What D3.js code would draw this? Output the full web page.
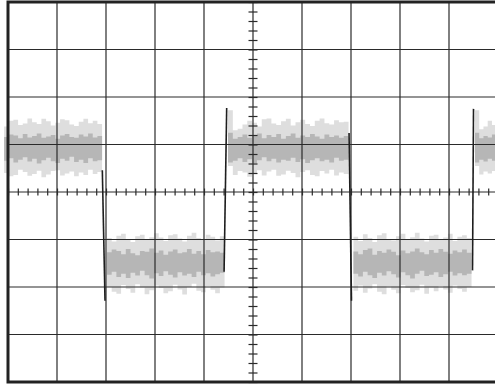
<!DOCTYPE html>
<html><head><meta charset="utf-8">
<script src="https://cdn.jsdelivr.net/npm/d3@7"></script>
<style>html,body{margin:0;padding:0;background:#fff;overflow:hidden}</style>
</head><body><svg id="c" width="495" height="385"></svg>
<script>
// Grid divisions (time: 10 div, amplitude: 8 div)
const xDivs = [-5,-4,-3,-2,-1,0,1,2,3,4,5];
const yDivs = [-4,-3,-2,-1,0,1,2,3,4];
const minorX = d3.range(-25, 26).map(i => i / 5);
const minorY = d3.range(-20, 21).map(i => i / 5);

// Noisy trace segments: [start, end] in divisions
const segTimes = [[-5.08,-3.08],[-2.98,-0.58],[-0.51,1.95],[2.05,4.46],[4.53,5.05]];
const lightTop = [
  [1.38,1.50,1.52,1.41,1.44,1.55,1.47,1.43,1.54,1.49,1.40,1.46,1.53,1.51,1.42,1.39,1.48,1.54,1.45,1.50,1.43],
  [-0.97,-1.04,-0.92,-0.88,-0.99,-1.05,-0.93,-0.90,-1.01,-0.95,-0.87,-0.96,-1.03,-0.91,-0.89,-0.98,-1.04,-0.92,-0.86,-0.97,-1.00,-0.90,-0.94,-1.02,-0.93],
  [1.72,1.30,1.33,1.42,1.50,1.46,1.38,1.53,1.55,1.44,1.41,1.49,1.54,1.40,1.47,1.52,1.43,1.39,1.50,1.55,1.45,1.42,1.51,1.47,1.48],
  [-0.94,-1.03,-0.89,-0.97,-1.05,-0.91,-0.87,-0.99,-1.02,-0.93,-0.88,-1.00,-0.95,-0.86,-0.98,-1.04,-0.92,-0.90,-1.01,-0.96,-0.88,-1.03,-0.94,-0.91,-0.97],
  [1.72,1.32,1.38,1.50,1.41,1.49]
];
const lightBot = [
  [0.40,0.33,0.36,0.47,0.42,0.34,0.38,0.45,0.31,0.37,0.44,0.46,0.35,0.39,0.43,0.33,0.41,0.36,0.47,0.38,0.42],
  [-2.00,-2.10,-2.14,-1.96,-2.04,-2.12,-1.94,-2.01,-2.15,-2.07,-1.97,-2.02,-2.13,-2.09,-1.95,-2.05,-2.16,-2.00,-1.93,-2.08,-2.11,-1.98,-2.06,-2.13,-2.01],
  [0.55,0.36,0.44,0.41,0.32,0.39,0.46,0.35,0.43,0.47,0.34,0.37,0.45,0.40,0.31,0.42,0.46,0.36,0.33,0.44,0.39,0.47,0.35,0.41,0.38],
  [-2.08,-1.97,-2.12,-2.03,-1.94,-2.10,-2.15,-1.99,-2.06,-2.13,-1.96,-2.02,-2.11,-2.07,-1.95,-2.14,-2.01,-2.09,-1.98,-2.05,-2.12,-1.97,-2.04,-2.10,-2.00],
  [0.55,0.37,0.43,0.39,0.44,0.40]
];
const darkTop = [
  [1.16,1.21,1.19,1.13,1.22,1.15,1.18,1.23,1.14,1.17,1.20,1.12,1.19,1.22,1.16,1.14,1.21,1.17,1.23,1.15,1.18],
  [-1.27,-1.21,-1.24,-1.31,-1.20,-1.29,-1.33,-1.24,-1.26,-1.19,-1.28,-1.23,-1.32,-1.25,-1.21,-1.29,-1.27,-1.20,-1.30,-1.24,-1.31,-1.22,-1.27,-1.25,-1.28],
  [1.25,1.12,1.16,1.21,1.14,1.19,1.23,1.13,1.20,1.16,1.22,1.12,1.18,1.23,1.14,1.19,1.16,1.22,1.17,1.12,1.21,1.16,1.19,1.14,1.18],
  [-1.25,-1.31,-1.22,-1.19,-1.32,-1.24,-1.28,-1.21,-1.26,-1.33,-1.23,-1.29,-1.25,-1.19,-1.27,-1.31,-1.22,-1.28,-1.20,-1.26,-1.30,-1.23,-1.27,-1.21,-1.28],
  [1.25,1.13,1.18,1.15,1.21,1.17]
];
const darkBot = [
  [0.66,0.71,0.62,0.68,0.73,0.64,0.70,0.60,0.67,0.72,0.65,0.61,0.70,0.66,0.74,0.63,0.68,0.61,0.71,0.65,0.67],
  [-1.74,-1.68,-1.79,-1.72,-1.81,-1.70,-1.76,-1.66,-1.75,-1.82,-1.71,-1.77,-1.67,-1.74,-1.80,-1.69,-1.76,-1.72,-1.79,-1.68,-1.75,-1.71,-1.78,-1.73,-1.70],
  [0.62,0.66,0.71,0.63,0.69,0.61,0.67,0.73,0.65,0.70,0.62,0.68,0.66,0.72,0.63,0.69,0.61,0.67,0.71,0.65,0.68,0.62,0.72,0.66,0.68],
  [-1.72,-1.78,-1.68,-1.75,-1.81,-1.70,-1.76,-1.67,-1.73,-1.80,-1.69,-1.75,-1.82,-1.72,-1.66,-1.77,-1.74,-1.69,-1.79,-1.73,-1.68,-1.76,-1.71,-1.75,-1.72],
  [0.62,0.68,0.64,0.70,0.66,0.69]
];

// Transition edges: [t start, t end] and [v start, v end] in divisions
const edgeTimes  = [[-3.075,-3.02],[-0.59,-0.537],[1.96,2.01],[4.48,4.50]];
const edgeLevels = [[0.46,-2.29],[-1.68,1.77],[1.24,-2.29],[-1.65,1.75]];

const svg = d3.select("#c");
const x = d3.scaleLinear().domain([-5,5]).range([8,498]);
const y = d3.scaleLinear().domain([-4,4]).range([382,2]);

function pts(seg, vals){
  const [a,b] = segTimes[seg];
  const n = vals.length, w = (b - a) / n;
  const p = vals.map((v,i) => [a + i*w, v]);
  p.push([b, vals[n-1]]);
  return p;
}
function band(seg, top, bot){
  const t = pts(seg, top), b = pts(seg, bot);
  return t.map((d,i) => ({t:d[0], hi:d[1], lo:b[i][1]}));
}
const area = d3.area().curve(d3.curveStepAfter)
  .x(d => x(d.t)).y0(d => y(d.lo)).y1(d => y(d.hi));

const gBands = svg.append("g");
segTimes.forEach((s,i) => {
  gBands.append("path").attr("d", area(band(i, lightTop[i], lightBot[i]))).attr("fill","#dedede");
});
segTimes.forEach((s,i) => {
  gBands.append("path").attr("d", area(band(i, darkTop[i], darkBot[i]))).attr("fill","#b6b6b6");
});

// Grid
const gGrid = svg.append("g").attr("stroke","#2a2a2a").attr("stroke-width",1.2);
gGrid.selectAll("line.v").data(xDivs.slice(1,-1)).join("line")
  .attr("x1", d => x(d)).attr("x2", d => x(d)).attr("y1", y(4)).attr("y2", y(-4));
gGrid.selectAll("line.h").data(yDivs.slice(1,-1)).join("line")
  .attr("x1", x(-5)).attr("x2", x(5)).attr("y1", d => y(d)).attr("y2", d => y(d));

// Center axes with minor ticks
function styleAxis(g){
  g.select(".domain").remove();
  g.selectAll(".tick line").attr("stroke","#2a2a2a").attr("stroke-width",1.2);
}
svg.append("g").attr("transform",`translate(0,${y(0)})`)
  .call(d3.axisBottom(x).tickValues(minorX).tickSize(3.5).tickFormat("")).call(styleAxis);
svg.append("g").attr("transform",`translate(0,${y(0)})`)
  .call(d3.axisTop(x).tickValues(minorX).tickSize(3.5).tickFormat("")).call(styleAxis);
svg.append("g").attr("transform",`translate(${x(0)},0)`)
  .call(d3.axisLeft(y).tickValues(minorY).tickSize(4.5).tickFormat("")).call(styleAxis);
svg.append("g").attr("transform",`translate(${x(0)},0)`)
  .call(d3.axisRight(y).tickValues(minorY).tickSize(4.5).tickFormat("")).call(styleAxis);

// Transition edges
const line = d3.line().x(d => x(d[0])).y(d => y(d[1]));
edgeTimes.forEach((t,i) => {
  svg.append("path").attr("d", line([[t[0], edgeLevels[i][0]],[t[1], edgeLevels[i][1]]]))
    .attr("fill","none").attr("stroke","#1e1e1e").attr("stroke-width",1.6);
});

// Frame
svg.append("rect").attr("x", x(-5)).attr("y", y(4))
  .attr("width", x(5)-x(-5)).attr("height", y(-4)-y(4))
  .attr("fill","none").attr("stroke","#222").attr("stroke-width",3);
</script></body></html>
